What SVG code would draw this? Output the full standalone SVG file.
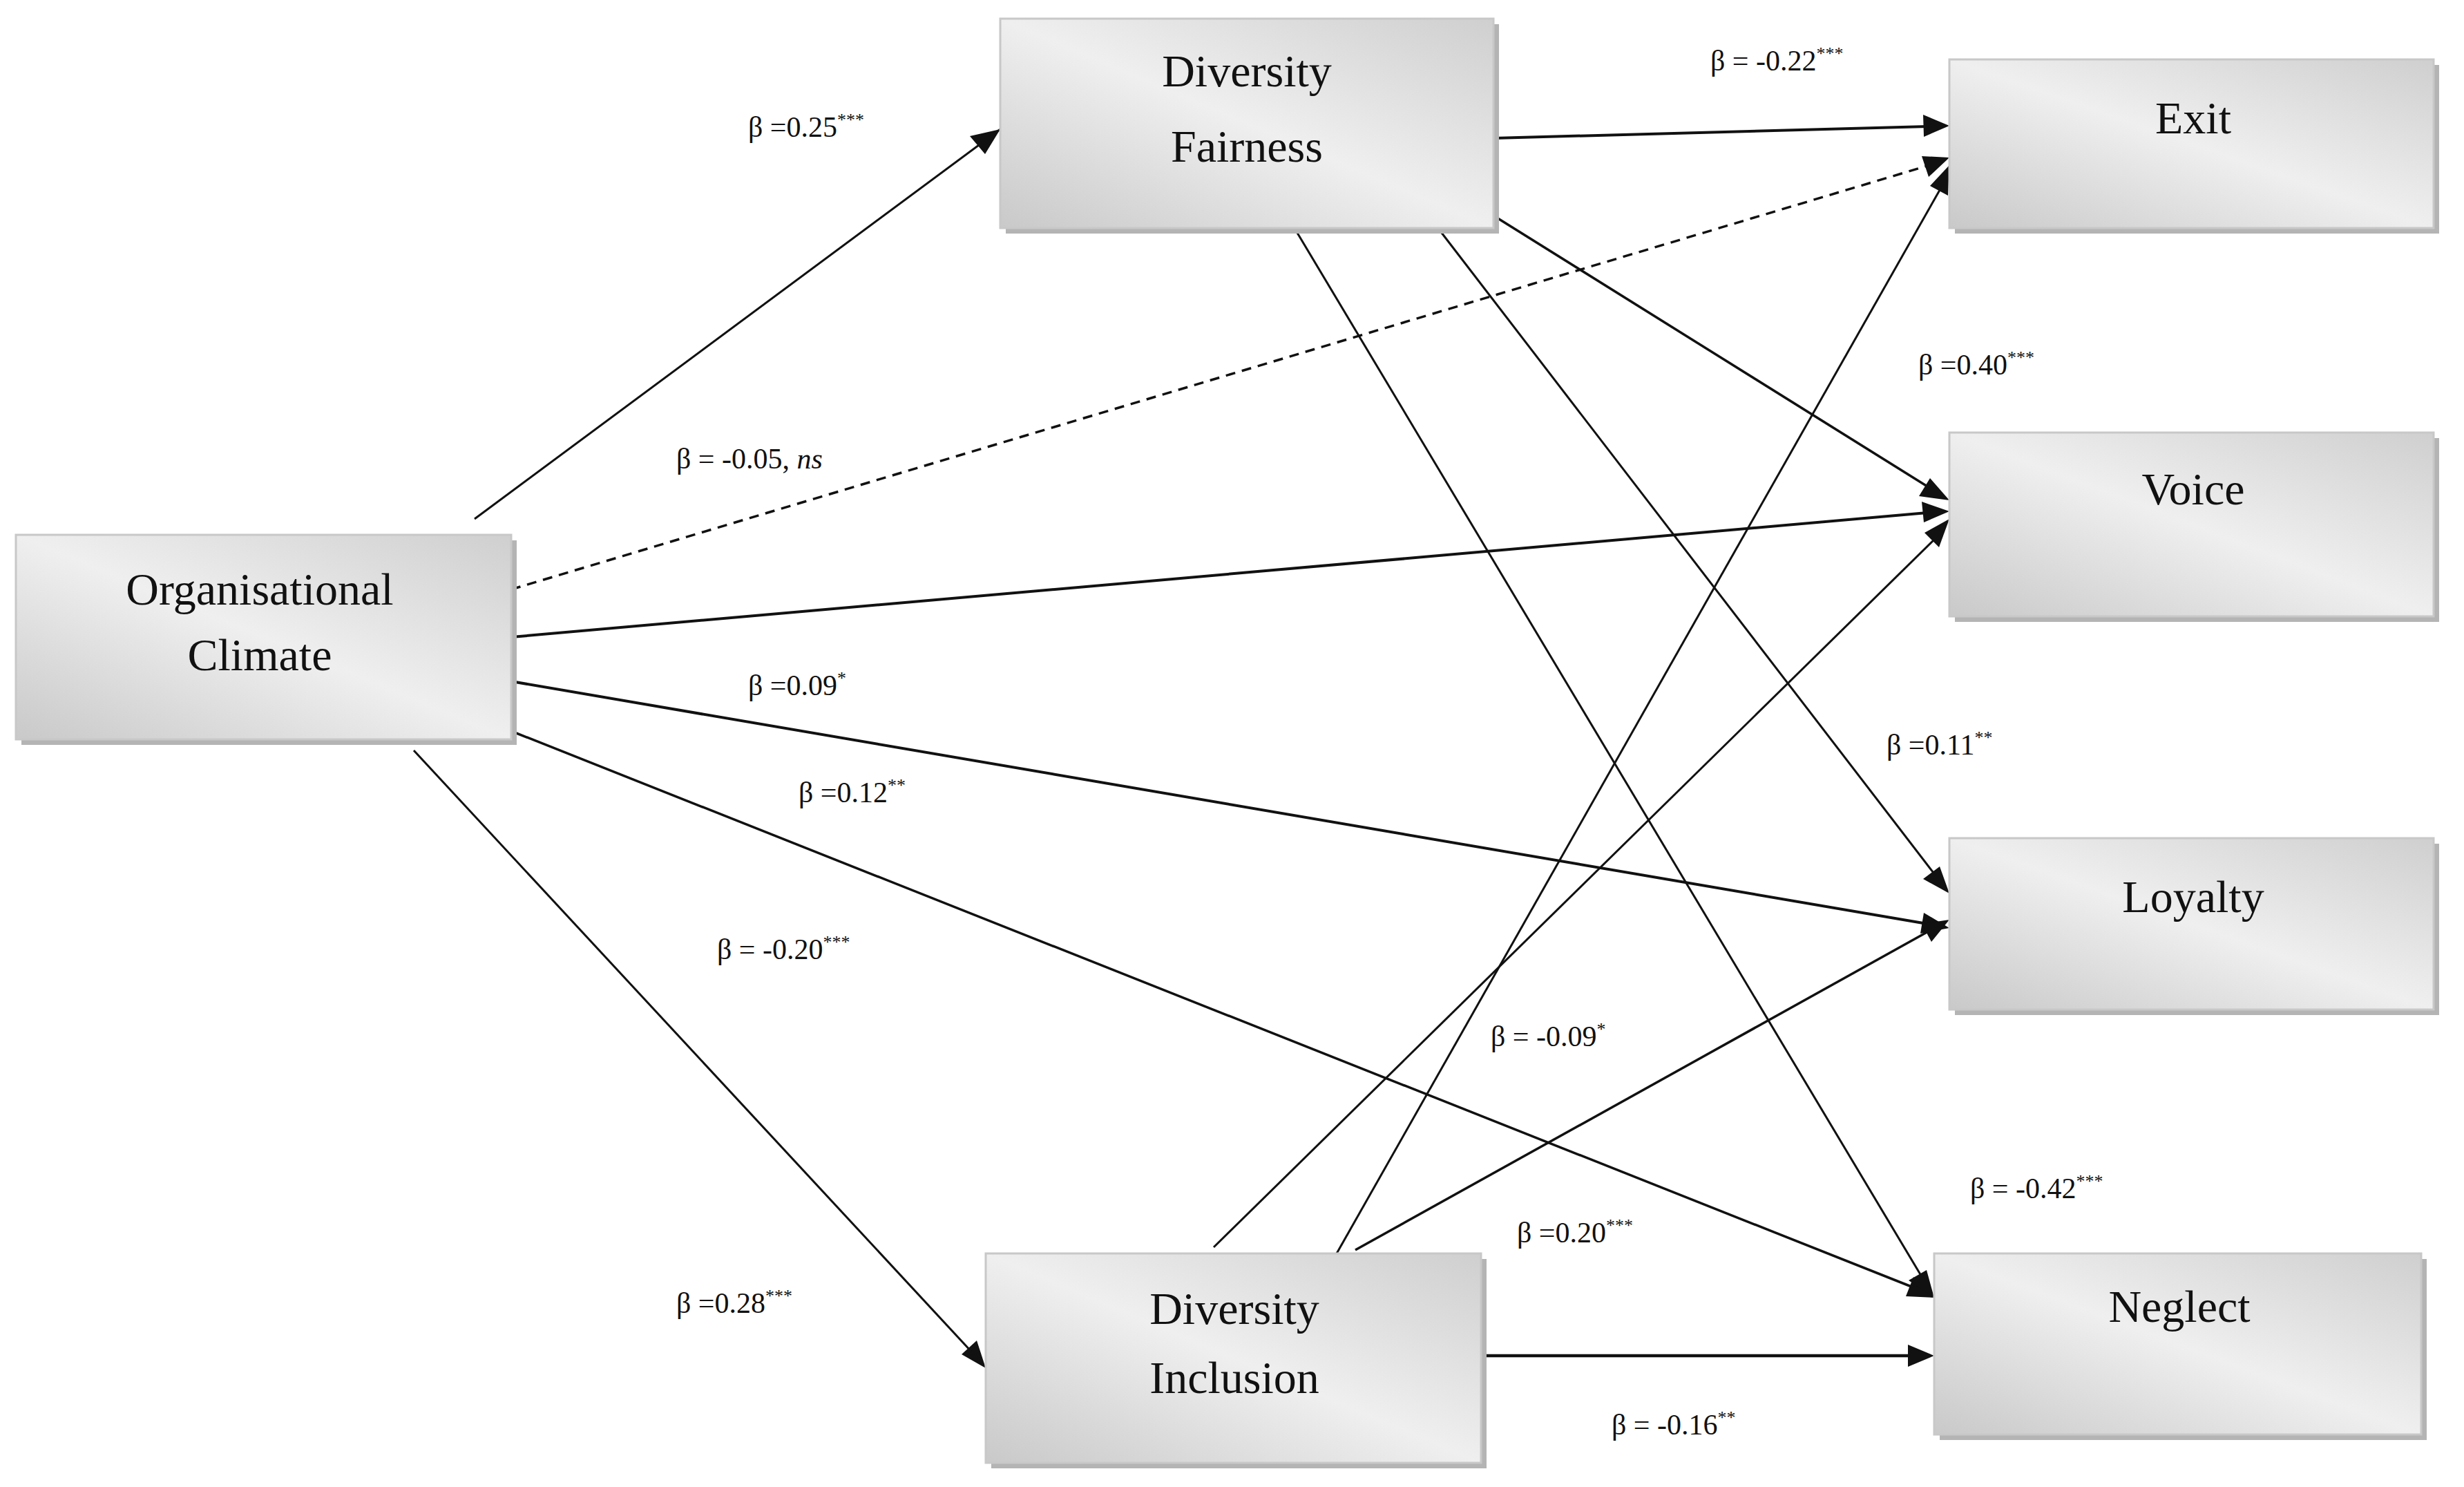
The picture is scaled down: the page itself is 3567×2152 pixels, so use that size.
<svg xmlns="http://www.w3.org/2000/svg" width="3567" height="2152" viewBox="0 0 3567 2152">
<style>
.box{fill:url(#g);stroke:#c8c8c8;stroke-width:3}
.sh{fill:#b4b4b4}
.nt{font-family:"Liberation Serif",serif;font-size:66px;text-anchor:middle;fill:#111}
.lb{font-family:"Liberation Serif",serif;font-size:42px;fill:#111}
.st{font-size:26px}
.e{stroke:#111;stroke-width:3.5;fill:none;marker-end:url(#a)}
.d{stroke-dasharray:14 10}
</style>
<defs>
<linearGradient id="g" x1="0" y1="1" x2="1" y2="0">
<stop offset="0" stop-color="#c9c9c9"/><stop offset="0.5" stop-color="#efefef"/><stop offset="1" stop-color="#cfcfcf"/>
</linearGradient>
<marker id="a" viewBox="0 0 10 10" refX="10" refY="5" markerWidth="11" markerHeight="11" markerUnits="userSpaceOnUse" orient="auto"><path d="M0,0L10,5L0,10z" fill="#111" transform="scale(1)"/></marker>
</defs>
<rect width="3567" height="2152" fill="#fff"/>
<g id="connectors">
<line class="e" x1="687" y1="751" x2="1448" y2="187" style="stroke-width:3;marker-end:none"/>
<path d="M1448,187 l-44,10 l22,26z" fill="#111"/>
<line class="e d" x1="740" y1="853" x2="2790" y2="240" style="marker-end:none"/>
<path d="M2822,228 l-40,-2 l10,30z" fill="#111"/>
<line x1="740" y1="922" x2="2790" y2="742" stroke="#111" stroke-width="4"/>
<path d="M2822,740 l-40,-14 l3,30z" fill="#111"/>
<line x1="740" y1="986" x2="2790" y2="1337" stroke="#111" stroke-width="4"/>
<path d="M2822,1343 l-37,-22 l-5,30z" fill="#111"/>
<line x1="740" y1="1058" x2="2772" y2="1864" stroke="#111" stroke-width="3.5"/>
<path d="M2800,1878 l-30,-30 l-11,28z" fill="#111"/>
<line x1="599" y1="1086" x2="1408" y2="1958" stroke="#111" stroke-width="3"/>
<path d="M1427,1980 l-13,-40 l-22,20z" fill="#111"/>
<line x1="2162" y1="200" x2="2790" y2="183" stroke="#111" stroke-width="4"/>
<path d="M2822,182 l-38,-16 l1,32z" fill="#111"/>
<line x1="2162" y1="312" x2="2795" y2="707" stroke="#111" stroke-width="3.5"/>
<path d="M2822,724 l-28,-32 l-16,26z" fill="#111"/>
<line x1="2087" y1="337" x2="2802" y2="1267" stroke="#111" stroke-width="3"/>
<path d="M2822,1293 l-14,-39 l-24,18z" fill="#111"/>
<line x1="1878" y1="337" x2="2784" y2="1851" stroke="#111" stroke-width="3"/>
<path d="M2800,1878 l-11,-40 l-26,15z" fill="#111"/>
<line x1="1935" y1="1814" x2="2812" y2="268" stroke="#111" stroke-width="3"/>
<path d="M2822,239 l-28,30 l26,14z" fill="#111"/>
<line x1="1757" y1="1805" x2="2804" y2="777" stroke="#111" stroke-width="3"/>
<path d="M2822,751 l-36,20 l21,21z" fill="#111"/>
<line x1="1962" y1="1809" x2="2795" y2="1346" stroke="#111" stroke-width="3.5"/>
<path d="M2822,1331 l-40,6 l14,26z" fill="#111"/>
<line x1="2144" y1="1962" x2="2768" y2="1962" stroke="#111" stroke-width="4.5"/>
<path d="M2800,1962 l-38,-16 l0,32z" fill="#111"/>
</g>
<g id="oc"><rect class="sh" x="31" y="782" width="717" height="296"/><rect class="box" x="23" y="774" width="717" height="296"/><text class="nt" x="376" y="875">Organisational</text><text class="nt" x="376" y="970">Climate</text></g>
<g id="df"><rect class="sh" x="1456" y="35" width="714" height="303"/><rect class="box" x="1448" y="27" width="714" height="303"/><text class="nt" x="1805" y="125">Diversity</text><text class="nt" x="1805" y="234">Fairness</text></g>
<g id="di"><rect class="sh" x="1435" y="1822" width="717" height="303"/><rect class="box" x="1427" y="1814" width="717" height="303"/><text class="nt" x="1787" y="1916">Diversity</text><text class="nt" x="1787" y="2016">Inclusion</text></g>
<g id="exit"><rect class="sh" x="2830" y="94" width="701" height="244"/><rect class="box" x="2822" y="86" width="701" height="244"/><text class="nt" x="3175" y="193">Exit</text></g>
<g id="voice"><rect class="sh" x="2830" y="634" width="701" height="266"/><rect class="box" x="2822" y="626" width="701" height="266"/><text class="nt" x="3175" y="730">Voice</text></g>
<g id="loyalty"><rect class="sh" x="2830" y="1221" width="701" height="248"/><rect class="box" x="2822" y="1213" width="701" height="248"/><text class="nt" x="3175" y="1320">Loyalty</text></g>
<g id="neglect"><rect class="sh" x="2808" y="1822" width="705" height="262"/><rect class="box" x="2800" y="1814" width="705" height="262"/><text class="nt" x="3155" y="1913">Neglect</text></g>
<g id="labels">
<text class="lb" x="1083" y="198">β =0.25<tspan class="st" dy="-16">***</tspan></text>
<text class="lb" x="979" y="678">β = -0.05, <tspan font-style="italic">ns</tspan></text>
<text class="lb" x="1083" y="1006">β =0.09<tspan class="st" dy="-16">*</tspan></text>
<text class="lb" x="1156" y="1161">β =0.12<tspan class="st" dy="-16">**</tspan></text>
<text class="lb" x="1038" y="1388">β = -0.20<tspan class="st" dy="-16">***</tspan></text>
<text class="lb" x="979" y="1900">β =0.28<tspan class="st" dy="-16">***</tspan></text>
<text class="lb" x="2476" y="102">β = -0.22<tspan class="st" dy="-16">***</tspan></text>
<text class="lb" x="2777" y="542">β =0.40<tspan class="st" dy="-16">***</tspan></text>
<text class="lb" x="2731" y="1092">β =0.11<tspan class="st" dy="-16">**</tspan></text>
<text class="lb" x="2158" y="1514">β = -0.09<tspan class="st" dy="-16">*</tspan></text>
<text class="lb" x="2852" y="1734">β = -0.42<tspan class="st" dy="-16">***</tspan></text>
<text class="lb" x="2196" y="1798">β =0.20<tspan class="st" dy="-16">***</tspan></text>
<text class="lb" x="2333" y="2076">β = -0.16<tspan class="st" dy="-16">**</tspan></text>
</g>
</svg>
